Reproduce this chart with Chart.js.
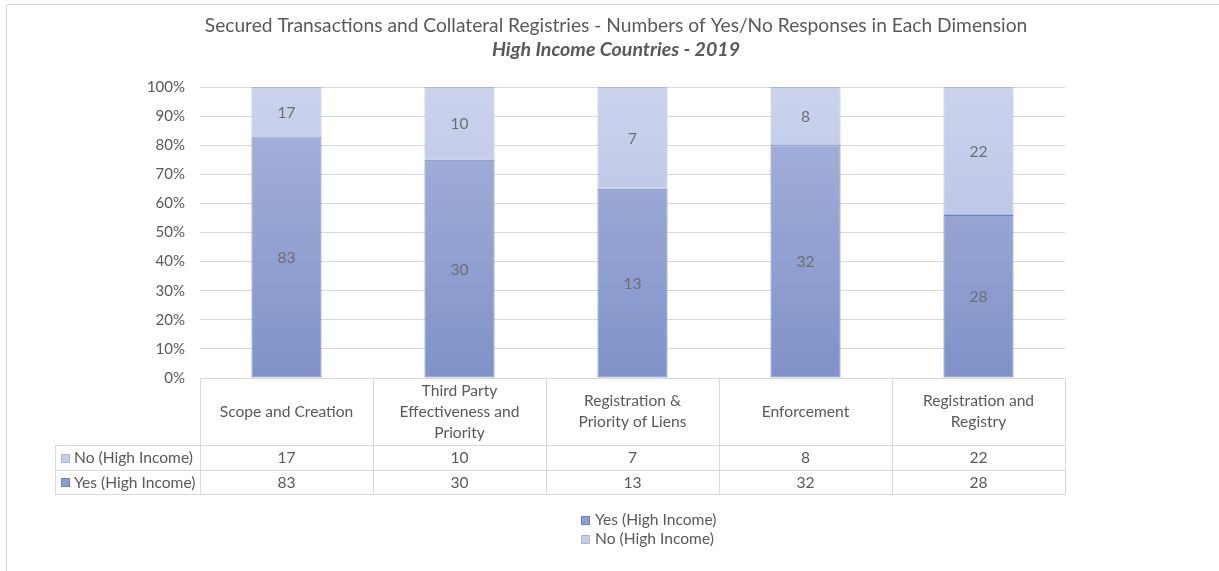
<!DOCTYPE html>
<html>
<head>
<meta charset="utf-8">
<script src="https://cdn.jsdelivr.net/npm/chart.js@4.4.1/dist/chart.umd.min.js"></script>
<style>
  html, body { margin: 0; padding: 0; background: #ffffff; }
  #wrap { width: 1219px; height: 571px; position: relative; }
</style>
</head>
<body>
<div id="wrap"><canvas id="chart" width="1219" height="571"></canvas></div>
<script>
// Dimensions surveyed (each entry is one line of the wrapped category label)
const categories = [
  ["Scope and Creation"],
  ["Third Party", "Effectiveness and", "Priority"],
  ["Registration &", "Priority of Liens"],
  ["Enforcement"],
  ["Registration and", "Registry"]
];
// Number of responses per dimension
const yesCounts = [83, 30, 13, 32, 28];
const noCounts = [17, 10, 7, 8, 22];
const seriesNames = ["Yes (High Income)", "No (High Income)"];
const yTicks = [0, 10, 20, 30, 40, 50, 60, 70, 80, 90, 100];
const titleText = "Secured Transactions and Collateral Registries - Numbers of Yes/No Responses in Each Dimension";
const subtitleText = "High Income Countries - 2019";

// Share of each answer within a dimension (100% stacked)
const yesShare = yesCounts.map((v, i) => v / (v + noCounts[i]) * 100);
const noShare = noCounts.map((v, i) => v / (yesCounts[i] + v) * 100);

const FONT = "Lato, 'Open Sans', sans-serif";
const TEXT = "#595959";
const GRID = "#d9d9d9";
const LABEL_SIZE = 15.6;
const YES_FILL = "#8d9dcf", YES_EDGE = "#6c81c1";
const NO_FILL = "#c3cce9", NO_EDGE = "#a9b6de";

function verticalGradient(topColor, bottomColor) {
  return (ctx) => {
    const area = ctx.chart.chartArea;
    if (!area) return topColor;
    const g = ctx.chart.ctx.createLinearGradient(0, area.top, 0, area.bottom);
    g.addColorStop(0, topColor);
    g.addColorStop(1, bottomColor);
    return g;
  };
}

// Title lines, count labels, data table and legend
const decorations = {
  id: "decorations",
  afterDraw(chart) {
    const c = chart.ctx;
    const area = chart.chartArea;
    const xs = chart.scales.x;
    const n = categories.length;
    const colW = (area.right - area.left) / n;
    c.save();

    // outer frame
    c.strokeStyle = GRID;
    c.lineWidth = 1;
    c.beginPath();
    c.moveTo(6.5, 571);
    c.lineTo(6.5, 4.5);
    c.lineTo(1219, 4.5);
    c.stroke();

    // titles
    c.fillStyle = TEXT;
    c.textAlign = "center";
    c.textBaseline = "middle";
    c.font = "19.2px " + FONT;
    c.fillText(titleText, 616, 26);
    c.font = "italic bold 19.6px " + FONT;
    c.fillText(subtitleText, 616, 50);

    // counts inside each segment
    c.font = LABEL_SIZE + "px " + FONT;
    c.fillStyle = "#6f6f6f";
    const counts = [yesCounts, noCounts];
    chart.data.datasets.forEach((ds, di) => {
      chart.getDatasetMeta(di).data.forEach((bar, i) => {
        const p = bar.getProps(["x", "y", "base"], true);
        c.fillText(String(counts[di][i]), p.x, (p.y + p.base) / 2 + 1);
      });
    });

    // data table under the plot
    const top = area.bottom;
    const headBottom = top + 67;
    const rowH = [25, 24];
    const tableLeft = 55;
    const rowsBottom = headBottom + rowH[0] + rowH[1];
    c.strokeStyle = GRID;
    c.beginPath();
    for (let i = 0; i <= n; i++) {
      const x = Math.round(area.left + i * colW) + 0.5;
      c.moveTo(x, top);
      c.lineTo(x, rowsBottom);
    }
    c.moveTo(tableLeft + 0.5, headBottom);
    c.lineTo(tableLeft + 0.5, rowsBottom);
    let yLine = headBottom;
    [0, rowH[0], rowH[1]].forEach((h) => {
      yLine += h;
      c.moveTo(tableLeft, Math.round(yLine) + 0.5);
      c.lineTo(area.right, Math.round(yLine) + 0.5);
    });
    c.stroke();

    // header labels
    c.fillStyle = TEXT;
    c.font = LABEL_SIZE + "px " + FONT;
    const lineH = 21;
    categories.forEach((lines, i) => {
      const cx = xs.getPixelForValue(i);
      const mid = (top + headBottom) / 2;
      lines.forEach((t, k) => {
        c.fillText(t, cx, mid + (k - (lines.length - 1) / 2) * lineH);
      });
    });

    // body rows: No first, then Yes
    const rows = [
      { name: seriesNames[1], vals: noCounts, fill: NO_FILL, edge: NO_EDGE },
      { name: seriesNames[0], vals: yesCounts, fill: YES_FILL, edge: YES_EDGE }
    ];
    let rowTop = headBottom;
    rows.forEach((r, ri) => {
      const cy = rowTop + rowH[ri] / 2 + 0.5;
      c.fillStyle = r.fill;
      c.strokeStyle = r.edge;
      c.fillRect(61, Math.round(cy - 4.5), 9, 9);
      c.strokeRect(61.5, Math.round(cy - 4.5) + 0.5, 8, 8);
      c.fillStyle = TEXT;
      c.textAlign = "left";
      c.fillText(r.name, 74, cy);
      c.textAlign = "center";
      r.vals.forEach((v, i) => c.fillText(String(v), xs.getPixelForValue(i), cy));
      rowTop += rowH[ri];
    });

    // legend
    const legendItems = [
      { name: seriesNames[0], fill: YES_FILL, edge: YES_EDGE },
      { name: seriesNames[1], fill: NO_FILL, edge: NO_EDGE }
    ];
    c.textAlign = "left";
    legendItems.forEach((it, k) => {
      const cy = 520 + k * 19;
      c.fillStyle = it.fill;
      c.strokeStyle = it.edge;
      c.fillRect(581, Math.round(cy - 4.5), 9, 9);
      c.strokeRect(581.5, Math.round(cy - 4.5) + 0.5, 8, 8);
      c.fillStyle = TEXT;
      c.fillText(it.name, 595, cy);
    });
    c.restore();
  }
};

new Chart(document.getElementById("chart"), {
  type: "bar",
  data: {
    labels: categories,
    datasets: [
      {
        label: seriesNames[0],
        data: yesShare,
        backgroundColor: verticalGradient("#a9b4dc", "#8092c8"),
        borderColor: YES_EDGE,
        borderWidth: 1,
        borderSkipped: false,
        categoryPercentage: 1,
        barPercentage: 0.405
      },
      {
        label: seriesNames[1],
        data: noShare,
        backgroundColor: verticalGradient("#cad2ec", "#aebbe0"),
        borderColor: NO_EDGE,
        borderWidth: 1,
        borderSkipped: false,
        categoryPercentage: 1,
        barPercentage: 0.405
      }
    ]
  },
  options: {
    responsive: false,
    animation: false,
    layout: { padding: { top: 87, left: 0, right: 154, bottom: 0 } },
    plugins: {
      legend: { display: false },
      title: { display: false },
      tooltip: { enabled: false }
    },
    scales: {
      x: {
        stacked: true,
        grid: { display: false },
        border: { display: false },
        ticks: { display: false },
        afterFit: (s) => { s.height = 193; }
      },
      y: {
        stacked: true,
        min: 0,
        max: 100,
        afterBuildTicks: (s) => { s.ticks = yTicks.map((v) => ({ value: v })); },
        afterFit: (s) => { s.width = 200; },
        grid: { color: GRID, drawTicks: false },
        border: { display: false },
        ticks: {
          padding: 15,
          color: TEXT,
          font: { family: FONT, size: 15 },
          callback: (v) => v + "%"
        }
      }
    }
  },
  plugins: [decorations]
});
</script>
</body>
</html>
